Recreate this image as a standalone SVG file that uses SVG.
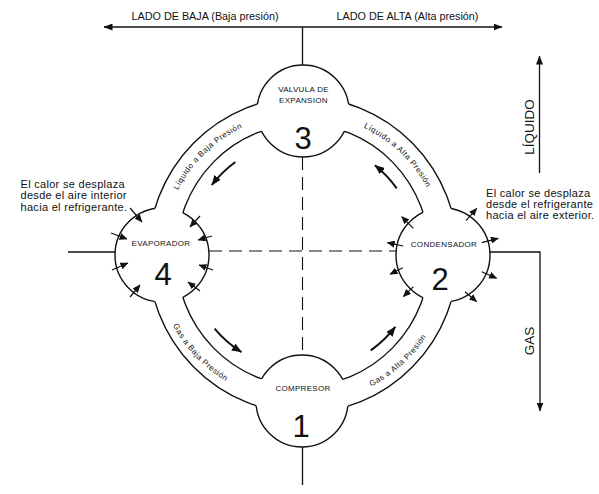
<svg xmlns="http://www.w3.org/2000/svg" width="599" height="494" viewBox="0 0 599 494">
<style>
text{font-family:'Liberation Sans',Arial,Helvetica,sans-serif;fill:#111}
.ln{fill:none;stroke:#111;stroke-width:1.4}
.ax{fill:none;stroke:#111;stroke-width:1.3}
.dash{fill:none;stroke:#111;stroke-width:1.1;stroke-dasharray:13 7}
.heat{stroke:#111;stroke-width:1.2;marker-end:url(#ah)}
.flow{fill:none;stroke:#111;stroke-width:2;marker-end:url(#fh)}
.lbl{font-size:8px;letter-spacing:0.3px;text-anchor:middle}
.num{font-size:31px;text-anchor:middle}
.note{font-size:11px;letter-spacing:0.3px}
.side{font-size:10.8px;text-anchor:middle}
.ring{font-size:8px;letter-spacing:0.5px}
.vert{font-size:13.5px;text-anchor:middle}
</style>
<defs>
<marker id="ah" markerUnits="userSpaceOnUse" markerWidth="8" markerHeight="7" refX="7.5" refY="3.5" orient="auto" viewBox="0 0 8 7"><path d="M0,0 L8,3.5 L0,7 z" fill="#111"/></marker>
<marker id="fh" markerUnits="userSpaceOnUse" markerWidth="10" markerHeight="8" refX="9.5" refY="4" orient="auto" viewBox="0 0 10 8"><path d="M0,0 L10,4 L0,8 z" fill="#111"/></marker>
<marker id="bh" markerUnits="userSpaceOnUse" markerWidth="9" markerHeight="7" refX="8.5" refY="3.5" orient="auto-start-reverse" viewBox="0 0 9 7"><path d="M0,0 L9,3.5 L0,7 z" fill="#111"/></marker>
<mask id="mDiscs" maskUnits="userSpaceOnUse" x="0" y="0" width="599" height="494">
<rect x="0" y="0" width="599" height="494" fill="#fff"/>
<circle cx="303" cy="111" r="46" fill="#000"/>
<circle cx="162" cy="255" r="47" fill="#000"/>
<circle cx="443" cy="255" r="47" fill="#000"/>
<circle cx="302" cy="401" r="46" fill="#000"/>
</mask>
<mask id="mBand" maskUnits="userSpaceOnUse" x="0" y="0" width="599" height="494">
<rect x="0" y="0" width="599" height="494" fill="#fff"/>
<path fill="#000" fill-rule="evenodd" d="M148,255 a155,158 0 1,0 310,0 a155,158 0 1,0 -310,0 Z M176,255 a127,131 0 1,0 254,0 a127,131 0 1,0 -254,0 Z"/>
</mask>
<path id="tpTL" d="M166.8,218.5 A141,141 0 0 1 271.3,117.6"/>
<path id="tpTR" d="M334.7,117.6 A141,141 0 0 1 438.5,216.1"/>
<path id="tpBL" d="M158.8,288.3 A148,148 0 0 0 262.2,397.3"/>
<path id="tpBR" d="M333.8,399.8 A148,148 0 0 0 443.8,300.7"/>
</defs>
<rect x="0" y="0" width="599" height="494" fill="#fff"/>

<g id="connectors">
<g id="ring" mask="url(#mDiscs)">
<ellipse class="ln" cx="303" cy="255" rx="155" ry="158"/>
<ellipse class="ln" cx="303" cy="255" rx="127" ry="131"/>
</g>
<line class="ax" x1="104" y1="27" x2="502" y2="27" marker-start="url(#bh)" marker-end="url(#bh)"/>
<line class="ax" x1="302.5" y1="27" x2="302.5" y2="65"/>
<line class="dash" x1="302.5" y1="157" x2="302.5" y2="355"/>
<line class="ax" x1="302.5" y1="447" x2="302.5" y2="485"/>
<line class="ax" x1="68" y1="252" x2="115" y2="252"/>
<line class="dash" x1="209" y1="251" x2="396" y2="251"/>
<polyline class="ax" points="490,252 540,252 540,411" marker-end="url(#bh)"/>
<line class="ax" x1="539.5" y1="173" x2="539.5" y2="56" marker-end="url(#bh)"/>
<path class="flow" d="M235.4,162 A115,115 0 0 0 211.8,185"/>
<path class="flow" d="M396.7,188.4 A115,115 0 0 0 374.9,165.3"/>
<path class="flow" d="M370.8,350.4 A117,117 0 0 0 395.3,326.9"/>
<path class="flow" d="M214.6,328.6 A115,115 0 0 0 241.4,352.1"/>
<text class="ring"><textPath href="#tpTL" startOffset="50%" text-anchor="middle">Líquido a Baja Presión</textPath></text>
<text class="ring"><textPath href="#tpTR" startOffset="50%" text-anchor="middle">Líquido a Alta Presión</textPath></text>
<text class="ring"><textPath href="#tpBL" startOffset="50%" text-anchor="middle">Gas a Baja Presión</textPath></text>
<text class="ring"><textPath href="#tpBR" startOffset="50%" text-anchor="middle">Gas a Alta Presión</textPath></text>
</g>

<g id="valvula">
<circle class="ln" cx="303" cy="111" r="46" mask="url(#mBand)"/>
<text class="lbl" x="303.5" y="92">VALVULA DE</text>
<text class="lbl" x="303.5" y="102.7">EXPANSION</text>
<text class="num" x="303" y="149">3</text>
</g>

<g id="evaporador">
<circle class="ln" cx="162" cy="255" r="47" mask="url(#mBand)"/>
<text class="lbl" x="161" y="246">EVAPORADOR</text>
<text class="num" x="163" y="285">4</text>
<line class="heat" x1="130" y1="208" x2="142" y2="222"/>
<line class="heat" x1="111" y1="233" x2="127" y2="239"/>
<line class="heat" x1="112" y1="270" x2="128" y2="263"/>
<line class="heat" x1="130" y1="297" x2="140" y2="285"/>
<line class="heat" x1="200" y1="216" x2="190" y2="227"/>
<line class="heat" x1="212" y1="236" x2="198" y2="240"/>
<line class="heat" x1="213" y1="270" x2="199" y2="265"/>
<line class="heat" x1="200" y1="291" x2="188" y2="282"/>
</g>

<g id="condensador">
<circle class="ln" cx="443" cy="255" r="47" mask="url(#mBand)"/>
<text class="lbl" x="444" y="246.5">CONDENSADOR</text>
<text class="num" x="440" y="290">2</text>
<line class="heat" x1="413.3" y1="228.3" x2="401.7" y2="216.7"/>
<line class="heat" x1="466" y1="220.7" x2="476.7" y2="208.3"/>
<line class="heat" x1="403.3" y1="246" x2="387.3" y2="242.7"/>
<line class="heat" x1="481.7" y1="242.7" x2="498.3" y2="238.3"/>
<line class="heat" x1="402.7" y1="267.7" x2="390" y2="274.3"/>
<line class="heat" x1="481.7" y1="271.7" x2="496.7" y2="278.3"/>
<line class="heat" x1="413.3" y1="286.7" x2="403.3" y2="296.7"/>
<line class="heat" x1="465" y1="291.7" x2="476.7" y2="301.7"/>
</g>

<g id="compresor">
<circle class="ln" cx="302" cy="401" r="46" mask="url(#mBand)"/>
<text class="lbl" x="303" y="390.7">COMPRESOR</text>
<text class="num" x="301" y="437">1</text>
</g>

<g id="labels">
<text class="side" x="205" y="19.5">LADO DE BAJA (Baja presión)</text>
<text class="side" x="407.5" y="19.5">LADO DE ALTA (Alta presión)</text>
<text class="note" x="20.5" y="187.5">El calor se desplaza</text>
<text class="note" x="20.5" y="199">desde el aire interior</text>
<text class="note" x="20.5" y="210.5">hacia el refrigerante.</text>
<text class="note" x="486" y="197">El calor se desplaza</text>
<text class="note" x="486" y="208">desde el refrigerante</text>
<text class="note" x="486" y="219">hacia el aire exterior.</text>
<text class="vert" transform="translate(533.5,127) rotate(-90)">LÍQUIDO</text>
<text class="vert" transform="translate(533.5,341) rotate(-90)">GAS</text>
</g>
</svg>
